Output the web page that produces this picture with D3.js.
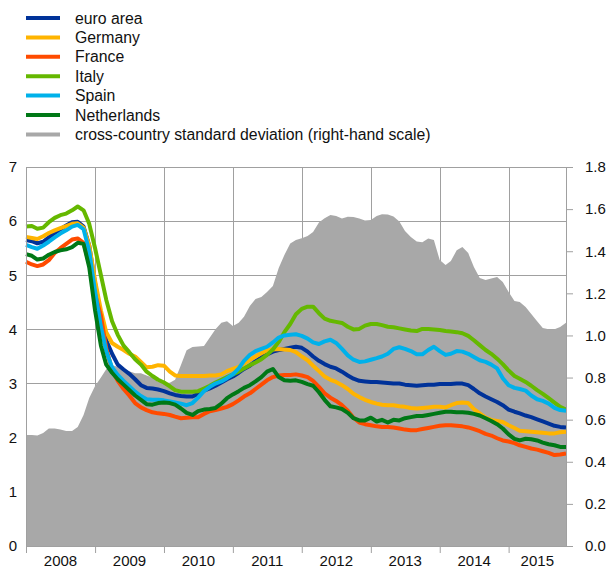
<!DOCTYPE html>
<html>
<head>
<meta charset="utf-8">
<script src="https://cdn.jsdelivr.net/npm/d3@7"></script>
<style>
  html, body { margin: 0; padding: 0; background: #fff; }
  svg { display: block; }
  text { font-family: "Liberation Sans", Arial, sans-serif; fill: #111; }
</style>
</head>
<body>
<div id="chart"></div>
<script>
// ── Data: monthly, Jan 2008 – Nov 2015
const months = d3.timeMonth.range(new Date(2008, 0, 1), new Date(2015, 11, 1));
const yearLabels = ['2008', '2009', '2010', '2011', '2012', '2013', '2014', '2015'];
const leftTicks = [0, 1, 2, 3, 4, 5, 6, 7];
const rightTicks = [0, 0.2, 0.4, 0.6, 0.8, 1.0, 1.2, 1.4, 1.6, 1.8];

const euroArea = [
  5.65, 5.63, 5.59, 5.62, 5.70, 5.78, 5.85, 5.92, 5.98, 5.99, 5.90, 5.55,
  4.85, 4.25, 3.80, 3.55, 3.35, 3.26, 3.18, 3.08, 2.97, 2.92, 2.91, 2.89,
  2.86, 2.82, 2.79, 2.77, 2.76, 2.76, 2.81, 2.87, 2.91, 2.96, 3.02, 3.08,
  3.13, 3.20, 3.27, 3.33, 3.41, 3.48, 3.54, 3.59, 3.62, 3.64, 3.66, 3.68,
  3.66, 3.59, 3.50, 3.42, 3.36, 3.31, 3.28, 3.22, 3.15, 3.09, 3.05, 3.04,
  3.03, 3.03, 3.02, 3.01, 3.00, 3.00, 2.98, 2.97, 2.96, 2.97, 2.98, 2.98,
  2.99, 2.99, 2.99, 3.00, 3.00, 2.97, 2.90, 2.82, 2.76, 2.71, 2.66, 2.60,
  2.52, 2.48, 2.45, 2.41, 2.38, 2.34, 2.30, 2.26, 2.22, 2.20, 2.19
];
const germany = [
  5.71, 5.69, 5.67, 5.72, 5.78, 5.83, 5.87, 5.91, 5.95, 5.96, 5.88, 5.55,
  4.90, 4.35, 3.95, 3.75, 3.68, 3.62, 3.55, 3.50, 3.40, 3.30, 3.31, 3.34,
  3.33, 3.22, 3.15, 3.14, 3.14, 3.14, 3.14, 3.14, 3.15, 3.15, 3.17, 3.23,
  3.27, 3.31, 3.37, 3.44, 3.50, 3.56, 3.61, 3.63, 3.64, 3.63, 3.62, 3.58,
  3.50, 3.43, 3.33, 3.23, 3.13, 3.07, 3.03, 2.97, 2.90, 2.81, 2.75, 2.70,
  2.66, 2.63, 2.61, 2.60, 2.60, 2.58, 2.57, 2.55, 2.54, 2.55, 2.56, 2.57,
  2.57, 2.56, 2.60, 2.64, 2.65, 2.64, 2.53, 2.45, 2.37, 2.33, 2.31, 2.29,
  2.23, 2.18, 2.13, 2.12, 2.11, 2.10, 2.09, 2.08, 2.08, 2.10, 2.11
];
const france = [
  5.25, 5.20, 5.17, 5.20, 5.28, 5.41, 5.50, 5.58, 5.66, 5.68, 5.60, 5.20,
  4.65, 4.25, 3.65, 3.25, 3.05, 2.90, 2.78, 2.64, 2.56, 2.51, 2.47, 2.45,
  2.44, 2.42, 2.39, 2.36, 2.37, 2.38, 2.38, 2.44, 2.49, 2.51, 2.54, 2.57,
  2.62, 2.69, 2.76, 2.82, 2.90, 2.98, 3.06, 3.12, 3.15, 3.16, 3.16, 3.17,
  3.15, 3.12, 3.05, 2.94, 2.82, 2.74, 2.68, 2.60, 2.50, 2.37, 2.28, 2.25,
  2.23, 2.21, 2.20, 2.20, 2.19, 2.17, 2.15, 2.14, 2.14, 2.16, 2.18, 2.20,
  2.22, 2.23, 2.23, 2.22, 2.21, 2.19, 2.16, 2.12, 2.07, 2.04, 1.99, 1.95,
  1.93, 1.90, 1.86, 1.83, 1.80, 1.78, 1.75, 1.72, 1.68, 1.69, 1.71
];
const italy = [
  5.90, 5.91, 5.86, 5.88, 5.98, 6.06, 6.11, 6.14, 6.20, 6.27, 6.20, 5.95,
  5.50, 5.00, 4.55, 4.15, 3.90, 3.70, 3.58, 3.45, 3.35, 3.22, 3.14, 3.07,
  3.02, 2.95, 2.88, 2.85, 2.85, 2.85, 2.86, 2.91, 2.96, 3.02, 3.07, 3.12,
  3.17, 3.22, 3.28, 3.34, 3.39, 3.45, 3.53, 3.63, 3.77, 3.95, 4.10, 4.28,
  4.38, 4.42, 4.42, 4.30, 4.20, 4.16, 4.14, 4.12, 4.05, 4.00, 4.01, 4.07,
  4.10, 4.10, 4.08, 4.05, 4.04, 4.02, 4.00, 3.98, 3.97, 4.01, 4.01, 4.00,
  3.99, 3.97, 3.96, 3.95, 3.93, 3.88, 3.80, 3.71, 3.62, 3.55, 3.46, 3.36,
  3.24, 3.14, 3.09, 3.03, 2.96, 2.88, 2.81, 2.73, 2.65, 2.57, 2.52
];
const spain = [
  5.56, 5.52, 5.49, 5.55, 5.62, 5.70, 5.77, 5.83, 5.90, 5.93, 5.85, 5.45,
  4.70, 4.05, 3.60, 3.30, 3.16, 3.05, 2.95, 2.85, 2.77, 2.71, 2.70, 2.70,
  2.69, 2.67, 2.65, 2.63, 2.60, 2.64, 2.74, 2.86, 2.94, 3.00, 3.04, 3.10,
  3.17, 3.28, 3.42, 3.53, 3.60, 3.64, 3.68, 3.76, 3.85, 3.89, 3.90, 3.91,
  3.88, 3.83, 3.76, 3.73, 3.78, 3.81, 3.75, 3.64, 3.52, 3.44, 3.40, 3.41,
  3.44, 3.47, 3.50, 3.55, 3.64, 3.67, 3.64, 3.60, 3.54, 3.54, 3.62, 3.68,
  3.60, 3.53, 3.55, 3.60, 3.59, 3.55, 3.49, 3.43, 3.40, 3.35, 3.28, 3.10,
  2.97, 2.92, 2.90, 2.87, 2.78, 2.71, 2.68, 2.63, 2.55, 2.51, 2.50
];
const netherlands = [
  5.39, 5.36, 5.29, 5.31, 5.38, 5.43, 5.46, 5.48, 5.52, 5.60, 5.58, 5.15,
  4.35, 3.70, 3.35, 3.20, 3.08, 2.98, 2.88, 2.78, 2.70, 2.62, 2.61, 2.64,
  2.65, 2.64, 2.61, 2.54, 2.46, 2.42, 2.49, 2.52, 2.53, 2.55, 2.63, 2.73,
  2.80, 2.86, 2.92, 2.97, 3.04, 3.12, 3.22, 3.27, 3.12, 3.06, 3.05, 3.06,
  3.03, 2.99, 2.96, 2.84, 2.70, 2.58, 2.56, 2.53, 2.46, 2.36, 2.32, 2.32,
  2.37, 2.30, 2.33, 2.28, 2.33, 2.32, 2.36, 2.38, 2.40, 2.40, 2.42, 2.44,
  2.46, 2.48, 2.48, 2.47, 2.47, 2.46, 2.44, 2.41, 2.36, 2.31, 2.25, 2.17,
  2.06, 1.98, 1.95, 1.98, 1.97, 1.95, 1.91, 1.88, 1.86, 1.83, 1.83
];
// cross-country standard deviation (right-hand scale)
const stdDev = [
  0.527, 0.527, 0.525, 0.537, 0.558, 0.558, 0.553, 0.546, 0.546, 0.565, 0.622, 0.703,
  0.760, 0.800, 0.840, 0.860, 0.850, 0.840, 0.830, 0.820, 0.820, 0.810, 0.800, 0.780,
  0.775, 0.775, 0.790, 0.860, 0.930, 0.945, 0.947, 0.950, 0.990, 1.030, 1.060, 1.068,
  1.045, 1.060, 1.089, 1.140, 1.173, 1.182, 1.206, 1.235, 1.320, 1.382, 1.437, 1.453,
  1.462, 1.472, 1.491, 1.536, 1.557, 1.572, 1.567, 1.556, 1.564, 1.562, 1.555, 1.546,
  1.548, 1.567, 1.576, 1.574, 1.565, 1.541, 1.496, 1.467, 1.446, 1.443, 1.461, 1.453,
  1.358, 1.334, 1.353, 1.405, 1.420, 1.391, 1.325, 1.273, 1.263, 1.271, 1.277, 1.254,
  1.206, 1.163, 1.159, 1.135, 1.102, 1.068, 1.035, 1.030, 1.030, 1.040, 1.060
];

const series = [
  { name: 'euro area',   color: '#003299', values: euroArea },
  { name: 'Germany',     color: '#FFB400', values: germany },
  { name: 'France',      color: '#FF4B00', values: france },
  { name: 'Italy',       color: '#65B800', values: italy },
  { name: 'Spain',       color: '#00B1EA', values: spain },
  { name: 'Netherlands', color: '#007816', values: netherlands },
];
const AREA_COLOR = '#a8a8a8';
const GRID = '#a0a0a0';

// ── Layout
const W = 611, H = 568;
const X0 = 26, X1 = 566, Y0 = 546, Y1 = 167;

const svg = d3.select('#chart').append('svg')
  .attr('width', W).attr('height', H);

const x = d3.scaleTime()
  .domain([months[0], months[months.length - 1]])
  .range([X0, X1]);
const yL = d3.scaleLinear().domain([0, 7]).range([Y0, Y1]);
const yR = d3.scaleLinear().domain([0, 1.8]).range([Y0, Y1]);

const yearStarts = yearLabels.map(y => new Date(+y, 0, 1));

// ── Gridlines (behind area)
const grid = svg.append('g');
grid.selectAll('.hgrid').data(leftTicks.slice(1)).enter().append('line')
  .attr('x1', X0).attr('x2', X1)
  .attr('y1', d => yL(d)).attr('y2', d => yL(d))
  .attr('stroke', GRID).attr('stroke-width', 1).attr('shape-rendering', 'crispEdges');
grid.selectAll('.vgrid').data(yearStarts.slice(1)).enter().append('line')
  .attr('x1', d => Math.round(x(d)) + 0.5).attr('x2', d => Math.round(x(d)) + 0.5)
  .attr('y1', Y1).attr('y2', Y0)
  .attr('stroke', GRID).attr('stroke-width', 1);

// ── Standard deviation area (right-hand scale)
const area = d3.area()
  .x((d, i) => x(months[i]))
  .y0(Y0)
  .y1(d => yR(d));
svg.append('path')
  .datum(stdDev)
  .attr('d', area)
  .attr('fill', AREA_COLOR);

// ── Country lines
const line = d3.line()
  .x((d, i) => x(months[i]))
  .y(d => yL(d));
svg.append('g').selectAll('path').data(series).enter().append('path')
  .attr('d', d => line(d.values))
  .attr('fill', 'none')
  .attr('stroke', d => d.color)
  .attr('stroke-width', 4)
  .attr('stroke-linejoin', 'round');

// ── Axes
function styleAxis(g) {
  g.select('.domain').attr('stroke', GRID);
  g.selectAll('.tick line').attr('stroke', GRID);
  g.selectAll('.tick text')
    .attr('font-size', '15px')
    .attr('font-family', '"Liberation Sans", Arial, sans-serif')
    .attr('fill', '#111');
}

svg.append('g')
  .attr('transform', `translate(${X0},0)`)
  .call(d3.axisLeft(yL).tickValues(leftTicks).tickSize(0).tickPadding(9)
    .tickSizeOuter(0).tickFormat(d3.format('d')))
  .call(styleAxis);

svg.append('g')
  .attr('transform', `translate(${X1},0)`)
  .call(d3.axisRight(yR).tickValues(rightTicks).tickSize(7).tickPadding(12)
    .tickSizeOuter(0).tickFormat(d3.format('.1f')))
  .call(styleAxis);

svg.append('g')
  .attr('transform', `translate(0,${Y0})`)
  .call(d3.axisBottom(x).tickValues(yearStarts).tickSize(7).tickSizeOuter(0).tickFormat(''))
  .call(styleAxis);

// year labels centred within each year (last one clipped to plot end)
svg.append('g').selectAll('text').data(yearLabels).enter().append('text')
  .attr('x', (d, i) => {
    const a = x(yearStarts[i]);
    const b = Math.min(X1, x(new Date(+d + 1, 0, 1)));
    return (a + b) / 2;
  })
  .attr('y', 566)
  .attr('text-anchor', 'middle')
  .attr('font-size', '15px')
  .text(d => d);

// ── Legend
const legendItems = series.map(s => ({ name: s.name, color: s.color }))
  .concat([{ name: 'cross-country standard deviation (right-hand scale)', color: AREA_COLOR }]);
const lg = svg.append('g');
const rows = lg.selectAll('g').data(legendItems).enter().append('g')
  .attr('transform', (d, i) => `translate(0,${18 + i * 19.4})`);
rows.append('line')
  .attr('x1', 26).attr('x2', 60)
  .attr('stroke', d => d.color).attr('stroke-width', 4);
rows.append('text')
  .attr('x', 75).attr('y', 5.5)
  .attr('font-size', '15.8px')
  .text(d => d.name);
</script>
</body>
</html>
